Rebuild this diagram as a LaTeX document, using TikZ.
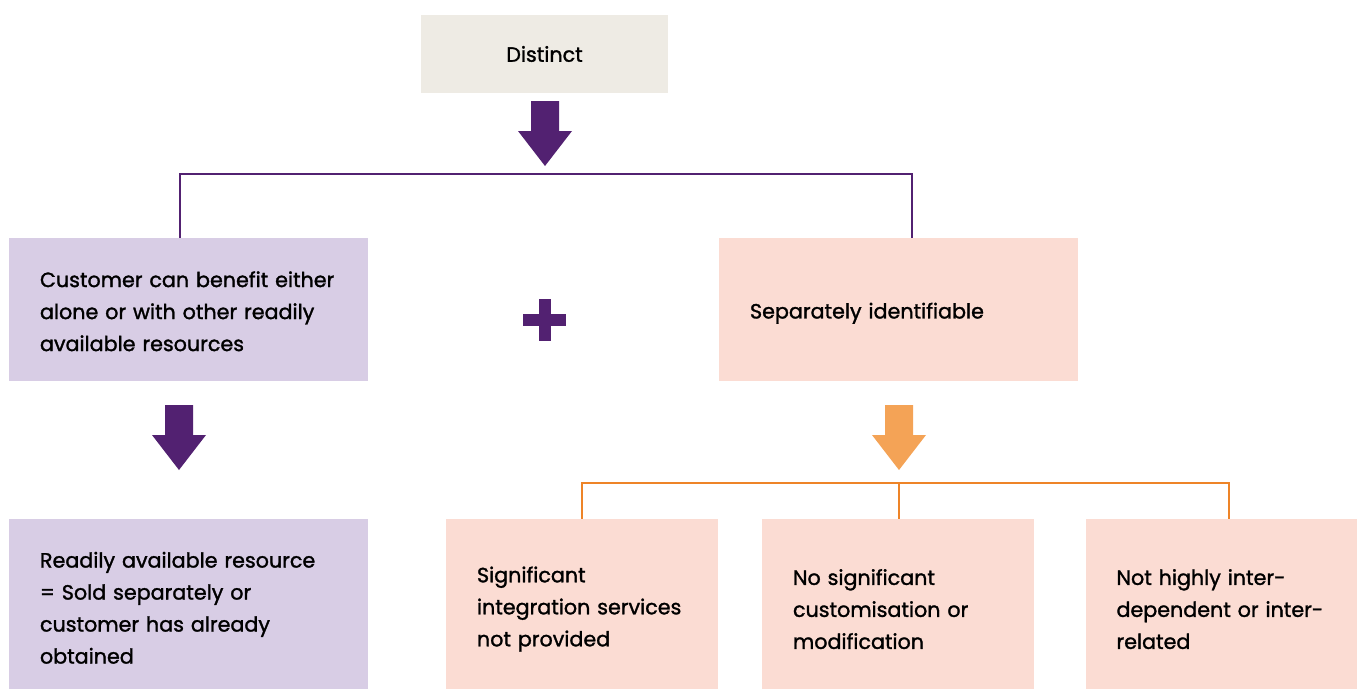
\documentclass[tikz,border=0pt]{standalone}
\usepackage{fontspec}
\setmainfont{Poppins}[FakeBold=1.4]
\newfontfamily\boxfont{Poppins}[FakeBold=1.4]
\definecolor{violetdark}{RGB}{82,33,113}
\definecolor{violetpale}{RGB}{216,205,229}
\definecolor{greypale}{RGB}{238,235,228}
\definecolor{peachpale}{RGB}{251,220,211}
\definecolor{orangemid}{RGB}{244,163,86}
\definecolor{orangeline}{RGB}{238,132,40}
\tikzset{
  box/.style={rectangle, inner xsep=23.25pt, inner ysep=0pt, align=left,
    font=\boxfont\fontsize{15.5}{24}\selectfont},
  widebox/.style={box, text width=222.75pt},
  narrowbox/.style={box, text width=157.5pt},
  drop/.style={execute at begin node={\rule{0pt}{#1}}},
  bracketv/.style={draw=violetdark, line width=1.5pt},
  bracketo/.style={draw=orangeline, line width=1.5pt}
}
% block arrow: centre x, top y, colour
\newcommand{\blockarrow}[3]{%
  \fill[#3] (#1-14,#2) -- (#1+14,#2) -- (#1+14,#2+30) -- (#1+27,#2+30)
    -- (#1,#2+65) -- (#1-27,#2+30) -- (#1-14,#2+30) -- cycle;}
\begin{document}
\begin{tikzpicture}[x=0.75pt,y=0.75pt,yscale=-1,xscale=1]
  \useasboundingbox (0,0) rectangle (1357,689);
  % Top Node
  \node [box, fill=greypale, minimum width=185.25pt, minimum height=58.5pt, inner xsep=0pt] (distinct) at (544.5,54) {Distinct};
  % Text Node
  \node [widebox, drop=14.5pt, fill=violetpale, minimum height=107.25pt] (benefit) at (188.5,309.5) {Customer can benefit either\\alone or with other readily\\available resources};
  % Text Node
  \node [widebox, drop=17.5pt, fill=peachpale, minimum height=107.25pt] (separate) at (898.5,309.5) {Separately identifiable};
  % Text Node
  \node [widebox, drop=17.5pt, fill=violetpale, minimum height=127.5pt] (resource) at (188.5,604) {Readily available resource\\= Sold separately or\\customer has already\\obtained};
  % Text Node
  \node [narrowbox, drop=19.5pt, fill=peachpale, minimum height=127.5pt] (integration) at (582,604) {Significant\\integration services\\not provided};
  % Text Node
  \node [narrowbox, drop=19.5pt, fill=peachpale, minimum height=127.5pt] (custom) at (898,604) {No significant\\customisation or\\modification};
  % Text Node
  \node [narrowbox, drop=19.5pt, fill=peachpale, minimum height=127.5pt] (interdep) at (1221.5,604) {Not highly inter-\\dependent or inter-\\related};

  %Block Arrows
  \blockarrow{545}{101}{violetdark}
  \blockarrow{179}{405}{violetdark}
  \blockarrow{899}{405}{orangemid}

  %Shape: Plus
  \fill [violetdark] (523,314) rectangle (566,326);
  \fill [violetdark] (538.5,299) rectangle (550.5,341);

  %Straight Lines
  \draw [bracketv] ([xshift=-6.4pt]benefit.north) -- ++(0,-64) -| ([xshift=10.1pt]separate.north);
  %Straight Lines
  \draw [bracketo] (integration.north) -- ++(0,-36) -| ([xshift=5.6pt]interdep.north);
  \draw [bracketo] ([xshift=0.75pt]custom.north) -- ++(0,-36);
\end{tikzpicture}
\end{document}
